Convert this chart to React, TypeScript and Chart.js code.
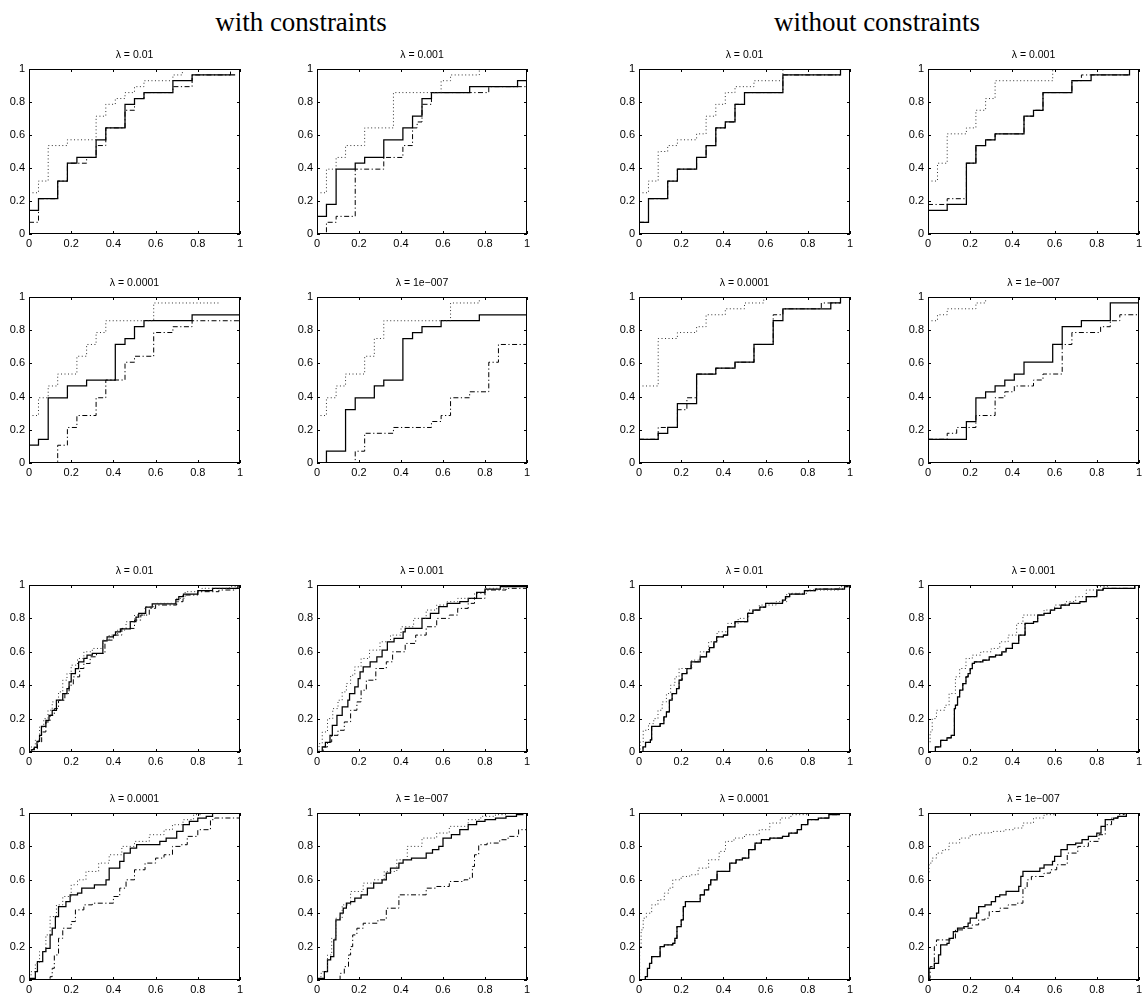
import React, { useEffect, useRef } from 'react';
import { Chart, registerables } from 'chart.js';

Chart.register(...registerables);

type Pt = [number, number];

// ---------- data (x, cumulative fraction) ----------
const p1Solid: Pt[] = [[0,0.143],[0.045,0.214],[0.136,0.321],[0.182,0.429],[0.227,0.464],[0.318,0.571],[0.364,0.643],[0.455,0.786],[0.5,0.821],[0.545,0.857],[0.682,0.929],[0.773,0.964],[0.977,0.964]];
const p1Dotted: Pt[] = [[0,0.25],[0.045,0.321],[0.091,0.536],[0.182,0.571],[0.318,0.714],[0.364,0.786],[0.409,0.821],[0.455,0.857],[0.5,0.893],[0.545,0.929],[0.682,0.964],[0.727,1],[0.955,1]];
const p1DashDot: Pt[] = [[0,0.071],[0.045,0.214],[0.136,0.321],[0.182,0.429],[0.273,0.464],[0.318,0.536],[0.364,0.643],[0.455,0.75],[0.5,0.821],[0.545,0.857],[0.682,0.893],[0.773,0.964],[0.955,1]];

const p2Solid: Pt[] = [[0,0.107],[0.045,0.179],[0.091,0.393],[0.182,0.429],[0.227,0.464],[0.318,0.571],[0.409,0.643],[0.455,0.714],[0.5,0.821],[0.545,0.857],[0.727,0.893],[0.955,0.929],[1,0.929]];
const p2Dotted: Pt[] = [[0,0.25],[0.045,0.393],[0.091,0.464],[0.136,0.536],[0.227,0.643],[0.364,0.857],[0.591,0.929],[0.636,0.964],[0.773,1],[1,1]];
const p2DashDot: Pt[] = [[0,0],[0.045,0.071],[0.091,0.107],[0.182,0.393],[0.318,0.464],[0.409,0.536],[0.455,0.643],[0.477,0.679],[0.5,0.786],[0.545,0.857],[0.818,0.893],[1,0.893]];

const p3Solid: Pt[] = [[0,0.071],[0.045,0.214],[0.136,0.321],[0.182,0.393],[0.273,0.464],[0.318,0.536],[0.364,0.643],[0.409,0.679],[0.455,0.786],[0.5,0.857],[0.682,0.964],[0.955,1],[1,1]];
const p3Dotted: Pt[] = [[0,0.25],[0.045,0.321],[0.091,0.5],[0.136,0.536],[0.182,0.571],[0.273,0.607],[0.318,0.714],[0.364,0.786],[0.409,0.857],[0.455,0.893],[0.545,0.929],[0.682,1],[1,1]];
const p3DashDot: Pt[] = [[0,0.071],[0.045,0.214],[0.136,0.321],[0.182,0.393],[0.273,0.464],[0.318,0.536],[0.364,0.643],[0.409,0.679],[0.455,0.786],[0.5,0.857],[0.682,0.964],[0.955,1],[1,1]];

const p4Solid: Pt[] = [[0,0.143],[0.091,0.179],[0.182,0.429],[0.227,0.536],[0.273,0.571],[0.318,0.607],[0.455,0.714],[0.5,0.75],[0.545,0.857],[0.682,0.929],[0.773,0.964],[0.955,1],[1,1]];
const p4Dotted: Pt[] = [[0,0.321],[0.045,0.429],[0.091,0.607],[0.182,0.643],[0.227,0.75],[0.273,0.821],[0.318,0.929],[0.591,1],[1,1]];
const p4DashDot: Pt[] = [[0,0.179],[0.091,0.214],[0.182,0.429],[0.227,0.536],[0.273,0.571],[0.318,0.607],[0.455,0.714],[0.5,0.75],[0.545,0.857],[0.682,0.929],[0.727,0.964],[0.955,1],[1,1]];

const p5Solid: Pt[] = [[0,0.107],[0.045,0.143],[0.091,0.393],[0.182,0.464],[0.273,0.5],[0.409,0.714],[0.455,0.75],[0.5,0.821],[0.545,0.857],[0.773,0.893],[1,0.893]];
const p5Dotted: Pt[] = [[0,0.286],[0.045,0.393],[0.091,0.464],[0.136,0.536],[0.227,0.643],[0.273,0.714],[0.318,0.786],[0.364,0.857],[0.591,0.964],[0.909,0.964]];
const p5DashDot: Pt[] = [[0,0],[0.136,0.107],[0.182,0.214],[0.227,0.286],[0.318,0.393],[0.364,0.5],[0.455,0.607],[0.5,0.643],[0.591,0.786],[0.682,0.821],[0.773,0.857],[1,0.857]];

const p6Solid: Pt[] = [[0,0],[0.045,0.071],[0.136,0.321],[0.182,0.393],[0.273,0.464],[0.318,0.5],[0.409,0.75],[0.455,0.786],[0.5,0.821],[0.591,0.857],[0.773,0.893],[1,0.893]];
const p6Dotted: Pt[] = [[0,0.286],[0.045,0.393],[0.091,0.464],[0.136,0.536],[0.227,0.643],[0.273,0.75],[0.318,0.857],[0.636,0.964],[0.773,1],[1,1]];
const p6DashDot: Pt[] = [[0,0],[0.182,0.071],[0.227,0.179],[0.364,0.214],[0.545,0.25],[0.591,0.286],[0.636,0.393],[0.727,0.429],[0.818,0.607],[0.864,0.714],[1,0.714]];

const p7Solid: Pt[] = [[0,0.143],[0.091,0.179],[0.136,0.214],[0.182,0.357],[0.273,0.536],[0.364,0.571],[0.455,0.607],[0.545,0.714],[0.636,0.857],[0.682,0.929],[0.909,0.964],[0.955,1],[1,1]];
const p7Dotted: Pt[] = [[0,0.464],[0.091,0.75],[0.182,0.786],[0.273,0.821],[0.318,0.893],[0.409,0.929],[0.5,0.964],[0.591,1],[1,1]];
const p7DashDot: Pt[] = [[0,0.143],[0.091,0.214],[0.182,0.321],[0.227,0.393],[0.273,0.536],[0.364,0.571],[0.455,0.607],[0.545,0.714],[0.636,0.893],[0.682,0.929],[0.864,0.964],[0.955,1],[1,1]];

const p8Solid: Pt[] = [[0,0.143],[0.182,0.25],[0.227,0.393],[0.273,0.429],[0.318,0.464],[0.364,0.5],[0.409,0.536],[0.455,0.607],[0.591,0.714],[0.636,0.821],[0.727,0.857],[0.864,0.964],[1,0.964]];
const p8Dotted: Pt[] = [[0,0.857],[0.045,0.893],[0.091,0.929],[0.227,0.964],[0.273,1],[1,1]];
const p8DashDot: Pt[] = [[0,0.143],[0.091,0.179],[0.136,0.214],[0.227,0.286],[0.318,0.393],[0.364,0.429],[0.409,0.464],[0.5,0.5],[0.545,0.536],[0.636,0.714],[0.682,0.786],[0.818,0.821],[0.864,0.857],[0.909,0.893],[1,0.893]];

const p9Solid: Pt[] = [[0,0],[0.013,0.014],[0.025,0.028],[0.038,0.063],[0.05,0.1],[0.059,0.153],[0.08,0.19],[0.095,0.22],[0.11,0.25],[0.13,0.31],[0.16,0.35],[0.18,0.38],[0.19,0.42],[0.2,0.47],[0.22,0.5],[0.235,0.54],[0.26,0.56],[0.275,0.58],[0.3,0.59],[0.35,0.665],[0.37,0.69],[0.4,0.7],[0.41,0.72],[0.433,0.738],[0.48,0.78],[0.507,0.807],[0.52,0.83],[0.553,0.867],[0.584,0.887],[0.696,0.913],[0.71,0.93],[0.732,0.946],[0.8,0.966],[0.87,0.98],[0.99,1],[1,1]];
const p9Dotted: Pt[] = [[0,0],[0.01,0.03],[0.03,0.07],[0.05,0.15],[0.07,0.2],[0.09,0.25],[0.11,0.3],[0.14,0.36],[0.16,0.43],[0.18,0.47],[0.2,0.52],[0.23,0.56],[0.26,0.6],[0.3,0.62],[0.35,0.67],[0.38,0.7],[0.42,0.73],[0.46,0.78],[0.5,0.82],[0.55,0.87],[0.6,0.89],[0.7,0.92],[0.74,0.96],[0.82,0.98],[0.95,0.99],[1,1]];
const p9DashDot: Pt[] = [[0,0],[0.02,0.02],[0.04,0.06],[0.06,0.12],[0.08,0.18],[0.1,0.22],[0.12,0.26],[0.14,0.31],[0.17,0.35],[0.19,0.4],[0.21,0.45],[0.24,0.5],[0.26,0.53],[0.29,0.57],[0.32,0.59],[0.36,0.67],[0.4,0.7],[0.44,0.74],[0.5,0.79],[0.53,0.82],[0.57,0.86],[0.6,0.88],[0.7,0.9],[0.73,0.94],[0.8,0.96],[0.9,0.97],[0.98,0.98],[1,0.99]];

const p10Solid: Pt[] = [[0,0],[0.025,0.03],[0.04,0.058],[0.062,0.1],[0.073,0.16],[0.095,0.22],[0.12,0.27],[0.147,0.31],[0.155,0.35],[0.18,0.39],[0.196,0.44],[0.205,0.48],[0.22,0.51],[0.253,0.54],[0.285,0.57],[0.31,0.61],[0.335,0.66],[0.367,0.68],[0.41,0.72],[0.42,0.74],[0.5,0.8],[0.54,0.83],[0.58,0.87],[0.62,0.89],[0.68,0.9],[0.72,0.92],[0.76,0.956],[0.8,0.976],[0.873,0.99],[1,0.99]];
const p10Dotted: Pt[] = [[0,0],[0.01,0.05],[0.025,0.12],[0.05,0.2],[0.075,0.26],[0.1,0.31],[0.12,0.36],[0.14,0.41],[0.16,0.46],[0.18,0.51],[0.21,0.56],[0.25,0.61],[0.3,0.66],[0.35,0.7],[0.4,0.75],[0.46,0.8],[0.52,0.85],[0.57,0.88],[0.62,0.9],[0.67,0.92],[0.75,0.95],[0.8,0.98],[0.9,1],[1,1]];
const p10DashDot: Pt[] = [[0,0],[0.03,0.03],[0.05,0.06],[0.07,0.1],[0.1,0.13],[0.13,0.18],[0.16,0.25],[0.19,0.3],[0.21,0.37],[0.235,0.43],[0.28,0.5],[0.33,0.54],[0.36,0.6],[0.42,0.65],[0.47,0.7],[0.52,0.75],[0.57,0.8],[0.63,0.82],[0.67,0.86],[0.72,0.89],[0.75,0.92],[0.8,0.97],[0.9,0.98],[1,0.98]];

const p11Solid: Pt[] = [[0,0],[0.019,0.03],[0.031,0.058],[0.054,0.073],[0.06,0.153],[0.1,0.17],[0.118,0.21],[0.13,0.24],[0.144,0.31],[0.157,0.35],[0.178,0.38],[0.19,0.43],[0.204,0.47],[0.227,0.5],[0.247,0.54],[0.29,0.57],[0.32,0.6],[0.334,0.625],[0.355,0.66],[0.368,0.69],[0.4,0.7],[0.42,0.75],[0.455,0.78],[0.515,0.83],[0.54,0.85],[0.573,0.867],[0.6,0.89],[0.68,0.91],[0.694,0.93],[0.714,0.946],[0.784,0.966],[0.836,0.976],[0.974,0.99],[0.99,1],[1,1]];
const p11Dotted: Pt[] = [[0,0],[0.005,0.06],[0.02,0.13],[0.045,0.17],[0.07,0.2],[0.09,0.25],[0.11,0.3],[0.13,0.35],[0.15,0.4],[0.17,0.45],[0.19,0.5],[0.25,0.55],[0.29,0.6],[0.33,0.66],[0.37,0.72],[0.42,0.77],[0.47,0.8],[0.52,0.85],[0.57,0.88],[0.65,0.9],[0.7,0.95],[0.8,0.97],[0.95,0.99],[1,1]];
const p11DashDot: Pt[] = [[0,0],[0.019,0.03],[0.031,0.058],[0.054,0.073],[0.06,0.153],[0.1,0.17],[0.118,0.21],[0.13,0.24],[0.144,0.31],[0.157,0.35],[0.178,0.38],[0.19,0.43],[0.204,0.47],[0.227,0.5],[0.247,0.54],[0.29,0.57],[0.32,0.6],[0.334,0.625],[0.355,0.66],[0.368,0.69],[0.4,0.7],[0.42,0.75],[0.455,0.78],[0.515,0.83],[0.54,0.85],[0.573,0.867],[0.6,0.89],[0.68,0.91],[0.694,0.93],[0.714,0.946],[0.784,0.966],[0.836,0.976],[0.974,0.99],[0.99,1],[1,1]];

const p12Solid: Pt[] = [[0,0],[0.035,0.03],[0.06,0.07],[0.09,0.085],[0.11,0.1],[0.125,0.26],[0.13,0.28],[0.14,0.33],[0.15,0.37],[0.165,0.41],[0.18,0.45],[0.19,0.47],[0.2,0.5],[0.21,0.53],[0.22,0.54],[0.26,0.55],[0.29,0.57],[0.32,0.58],[0.35,0.6],[0.37,0.62],[0.4,0.65],[0.43,0.7],[0.46,0.77],[0.5,0.78],[0.52,0.82],[0.55,0.83],[0.58,0.85],[0.6,0.86],[0.63,0.88],[0.67,0.89],[0.72,0.9],[0.75,0.93],[0.8,0.97],[0.83,0.98],[0.98,1],[1,1]];
const p12Dotted: Pt[] = [[0,0.05],[0.01,0.12],[0.02,0.2],[0.04,0.25],[0.08,0.28],[0.1,0.35],[0.13,0.45],[0.15,0.5],[0.18,0.56],[0.21,0.58],[0.25,0.6],[0.3,0.62],[0.34,0.66],[0.38,0.7],[0.42,0.77],[0.45,0.82],[0.52,0.82],[0.55,0.85],[0.6,0.88],[0.65,0.9],[0.7,0.93],[0.75,0.97],[0.8,0.99],[0.85,1],[1,1]];
const p12DashDot: Pt[] = [[0,0],[0.035,0.03],[0.06,0.07],[0.09,0.085],[0.11,0.1],[0.125,0.26],[0.13,0.28],[0.14,0.33],[0.15,0.37],[0.165,0.41],[0.18,0.45],[0.19,0.47],[0.2,0.5],[0.21,0.53],[0.22,0.54],[0.26,0.55],[0.29,0.57],[0.32,0.58],[0.35,0.6],[0.37,0.62],[0.4,0.65],[0.43,0.7],[0.46,0.77],[0.5,0.78],[0.52,0.82],[0.55,0.83],[0.58,0.85],[0.6,0.86],[0.63,0.88],[0.67,0.89],[0.72,0.9],[0.75,0.93],[0.8,0.97],[0.83,0.98],[0.98,1],[1,1]];

const p13Solid: Pt[] = [[0,0.01],[0.03,0.05],[0.04,0.11],[0.065,0.17],[0.08,0.19],[0.1,0.27],[0.11,0.31],[0.125,0.38],[0.14,0.44],[0.175,0.47],[0.195,0.51],[0.23,0.52],[0.25,0.55],[0.31,0.57],[0.365,0.6],[0.38,0.67],[0.43,0.71],[0.45,0.76],[0.48,0.79],[0.51,0.81],[0.62,0.83],[0.65,0.85],[0.7,0.89],[0.73,0.93],[0.76,0.95],[0.8,0.97],[0.84,0.98],[0.87,1],[1,1]];
const p13Dotted: Pt[] = [[0,0.02],[0.01,0.05],[0.03,0.1],[0.05,0.17],[0.08,0.27],[0.1,0.38],[0.13,0.45],[0.16,0.5],[0.2,0.57],[0.23,0.6],[0.27,0.65],[0.33,0.7],[0.38,0.75],[0.44,0.8],[0.5,0.83],[0.57,0.87],[0.64,0.9],[0.68,0.93],[0.73,0.96],[0.78,0.99],[0.82,1],[1,1]];
const p13DashDot: Pt[] = [[0,0],[0.1,0.02],[0.11,0.07],[0.12,0.15],[0.14,0.25],[0.16,0.31],[0.2,0.35],[0.22,0.42],[0.26,0.45],[0.3,0.46],[0.4,0.5],[0.43,0.55],[0.46,0.6],[0.5,0.66],[0.55,0.7],[0.6,0.73],[0.64,0.75],[0.68,0.8],[0.72,0.81],[0.75,0.86],[0.8,0.9],[0.86,0.96],[0.88,0.97],[1,0.97]];

const p14Solid: Pt[] = [[0,0.01],[0.035,0.05],[0.05,0.12],[0.065,0.14],[0.08,0.24],[0.09,0.36],[0.11,0.4],[0.125,0.43],[0.14,0.46],[0.16,0.47],[0.18,0.49],[0.21,0.51],[0.24,0.55],[0.27,0.58],[0.31,0.6],[0.33,0.64],[0.35,0.67],[0.39,0.7],[0.41,0.72],[0.45,0.73],[0.52,0.76],[0.55,0.78],[0.58,0.8],[0.6,0.85],[0.64,0.87],[0.68,0.9],[0.72,0.93],[0.76,0.95],[0.8,0.96],[0.85,0.97],[0.9,0.98],[0.95,0.99],[0.98,1],[1,1]];
const p14Dotted: Pt[] = [[0,0.02],[0.02,0.05],[0.05,0.15],[0.07,0.25],[0.09,0.37],[0.12,0.45],[0.16,0.53],[0.22,0.58],[0.27,0.6],[0.32,0.65],[0.38,0.72],[0.43,0.8],[0.5,0.85],[0.57,0.88],[0.63,0.92],[0.72,0.96],[0.78,0.98],[0.85,0.99],[0.9,1],[1,1]];
const p14DashDot: Pt[] = [[0,0],[0.11,0.04],[0.13,0.08],[0.15,0.15],[0.16,0.2],[0.17,0.27],[0.19,0.31],[0.22,0.34],[0.29,0.36],[0.33,0.43],[0.39,0.51],[0.52,0.55],[0.57,0.56],[0.63,0.59],[0.7,0.6],[0.72,0.61],[0.74,0.68],[0.75,0.75],[0.77,0.81],[0.81,0.82],[0.87,0.84],[0.91,0.86],[0.96,0.9],[1,0.93]];

const p15Solid: Pt[] = [[0,0],[0.03,0.02],[0.04,0.07],[0.05,0.1],[0.06,0.14],[0.1,0.2],[0.12,0.21],[0.16,0.22],[0.17,0.25],[0.18,0.32],[0.2,0.36],[0.21,0.44],[0.22,0.47],[0.29,0.51],[0.31,0.54],[0.33,0.57],[0.34,0.6],[0.37,0.65],[0.43,0.7],[0.46,0.72],[0.49,0.73],[0.52,0.78],[0.55,0.82],[0.58,0.84],[0.62,0.85],[0.68,0.86],[0.71,0.88],[0.75,0.9],[0.77,0.93],[0.8,0.96],[0.85,0.97],[0.9,0.99],[0.95,1],[1,1]];
const p15Dotted: Pt[] = [[0,0],[0.003,0.2],[0.01,0.3],[0.02,0.37],[0.035,0.4],[0.06,0.45],[0.09,0.48],[0.12,0.52],[0.14,0.55],[0.16,0.6],[0.2,0.62],[0.24,0.63],[0.28,0.67],[0.33,0.72],[0.38,0.77],[0.41,0.83],[0.45,0.85],[0.5,0.87],[0.57,0.9],[0.62,0.94],[0.67,0.97],[0.72,0.99],[0.8,1],[1,1]];
const p15DashDot: Pt[] = [[0,0],[0.03,0.02],[0.04,0.07],[0.05,0.1],[0.06,0.14],[0.1,0.2],[0.12,0.21],[0.16,0.22],[0.17,0.25],[0.18,0.32],[0.2,0.36],[0.21,0.44],[0.22,0.47],[0.29,0.51],[0.31,0.54],[0.33,0.57],[0.34,0.6],[0.37,0.65],[0.43,0.7],[0.46,0.72],[0.49,0.73],[0.52,0.78],[0.55,0.82],[0.58,0.84],[0.62,0.85],[0.68,0.86],[0.71,0.88],[0.75,0.9],[0.77,0.93],[0.8,0.96],[0.85,0.97],[0.9,0.99],[0.95,1],[1,1]];

const p16Solid: Pt[] = [[0,0.01],[0.005,0.07],[0.03,0.1],[0.05,0.15],[0.06,0.21],[0.09,0.22],[0.1,0.25],[0.12,0.29],[0.14,0.31],[0.17,0.32],[0.19,0.34],[0.2,0.37],[0.23,0.4],[0.24,0.44],[0.27,0.45],[0.3,0.47],[0.32,0.5],[0.34,0.51],[0.37,0.53],[0.43,0.56],[0.44,0.62],[0.45,0.65],[0.53,0.67],[0.55,0.69],[0.59,0.71],[0.6,0.74],[0.63,0.78],[0.66,0.81],[0.7,0.82],[0.73,0.84],[0.76,0.86],[0.8,0.88],[0.82,0.92],[0.84,0.96],[0.88,0.97],[0.9,0.98],[0.94,1],[1,1]];
const p16Dotted: Pt[] = [[0,0.63],[0.005,0.7],[0.02,0.73],[0.04,0.76],[0.07,0.78],[0.1,0.82],[0.15,0.85],[0.2,0.87],[0.25,0.88],[0.3,0.89],[0.36,0.9],[0.41,0.91],[0.45,0.94],[0.5,0.97],[0.55,0.99],[0.6,1],[1,1]];
const p16DashDot: Pt[] = [[0,0.01],[0.01,0.08],[0.03,0.2],[0.04,0.24],[0.11,0.25],[0.13,0.3],[0.17,0.31],[0.21,0.33],[0.24,0.36],[0.27,0.37],[0.29,0.41],[0.34,0.43],[0.38,0.45],[0.42,0.46],[0.45,0.55],[0.47,0.6],[0.49,0.62],[0.55,0.64],[0.58,0.66],[0.61,0.69],[0.66,0.76],[0.71,0.8],[0.76,0.83],[0.81,0.87],[0.84,0.93],[0.87,0.97],[0.9,0.99],[0.93,1],[1,1]];

const lambdaTitles = ['λ = 0.01', 'λ = 0.001', 'λ = 0.0001', 'λ = 1e\u2212007'];
const tickValues = [0, 0.2, 0.4, 0.6, 0.8, 1];
const tickLabels = ['0', '0.2', '0.4', '0.6', '0.8', '1'];
const groupHeadings = ['with constraints', 'without constraints'];

// ---------- layout ----------
const colLeft = [29, 317, 639, 928];
const colWidth = [211, 210, 211, 211];
const rowTop = [69, 297, 585, 813];
const rowHeight = [165, 166, 167, 167];
const PAD_L = 34, PAD_T = 24, PAD_R = 8, PAD_B = 18;
const TICK_FONT = '"Liberation Sans", Arial, Helvetica, sans-serif';

interface PanelSpec { row: number; col: number; title: string; solid: Pt[]; dotted: Pt[]; dashdot: Pt[] }

const panels: PanelSpec[] = [
  { row: 0, col: 0, title: lambdaTitles[0], solid: p1Solid, dotted: p1Dotted, dashdot: p1DashDot },
  { row: 0, col: 1, title: lambdaTitles[1], solid: p2Solid, dotted: p2Dotted, dashdot: p2DashDot },
  { row: 0, col: 2, title: lambdaTitles[0], solid: p3Solid, dotted: p3Dotted, dashdot: p3DashDot },
  { row: 0, col: 3, title: lambdaTitles[1], solid: p4Solid, dotted: p4Dotted, dashdot: p4DashDot },
  { row: 1, col: 0, title: lambdaTitles[2], solid: p5Solid, dotted: p5Dotted, dashdot: p5DashDot },
  { row: 1, col: 1, title: lambdaTitles[3], solid: p6Solid, dotted: p6Dotted, dashdot: p6DashDot },
  { row: 1, col: 2, title: lambdaTitles[2], solid: p7Solid, dotted: p7Dotted, dashdot: p7DashDot },
  { row: 1, col: 3, title: lambdaTitles[3], solid: p8Solid, dotted: p8Dotted, dashdot: p8DashDot },
  { row: 2, col: 0, title: lambdaTitles[0], solid: p9Solid, dotted: p9Dotted, dashdot: p9DashDot },
  { row: 2, col: 1, title: lambdaTitles[1], solid: p10Solid, dotted: p10Dotted, dashdot: p10DashDot },
  { row: 2, col: 2, title: lambdaTitles[0], solid: p11Solid, dotted: p11Dotted, dashdot: p11DashDot },
  { row: 2, col: 3, title: lambdaTitles[1], solid: p12Solid, dotted: p12Dotted, dashdot: p12DashDot },
  { row: 3, col: 0, title: lambdaTitles[2], solid: p13Solid, dotted: p13Dotted, dashdot: p13DashDot },
  { row: 3, col: 1, title: lambdaTitles[3], solid: p14Solid, dotted: p14Dotted, dashdot: p14DashDot },
  { row: 3, col: 2, title: lambdaTitles[2], solid: p15Solid, dotted: p15Dotted, dashdot: p15DashDot },
  { row: 3, col: 3, title: lambdaTitles[3], solid: p16Solid, dotted: p16Dotted, dashdot: p16DashDot },
];

const framePlugin = {
  id: 'matlabFrame',
  afterDatasetsDraw(chart: any, _args: any, opts: any) {
    const { ctx, chartArea } = chart;
    const { left, right, top, bottom } = chartArea;
    const xs = chart.scales.x;
    const ys = chart.scales.y;
    ctx.save();
    ctx.setLineDash([]);
    ctx.strokeStyle = '#000';
    ctx.lineWidth = 1;
    ctx.strokeRect(left + 0.5, top + 0.5, right - left - 1, bottom - top - 1);
    ctx.beginPath();
    const tl = 3;
    for (const v of tickValues) {
      const px = Math.round(xs.getPixelForValue(v)) + 0.5;
      ctx.moveTo(px, bottom); ctx.lineTo(px, bottom - tl);
      ctx.moveTo(px, top); ctx.lineTo(px, top + tl);
      const py = Math.round(ys.getPixelForValue(v)) + 0.5;
      ctx.moveTo(left, py); ctx.lineTo(left + tl, py);
      ctx.moveTo(right, py); ctx.lineTo(right - tl, py);
    }
    ctx.stroke();
    ctx.fillStyle = '#000';
    ctx.font = `10.5px ${TICK_FONT}`;
    ctx.textAlign = 'center';
    ctx.textBaseline = 'middle';
    ctx.fillText(opts.text, (left + right) / 2, top - 14);
    ctx.restore();
  },
};

const labelFor = (value: number | string) => {
  const i = tickValues.findIndex((t) => Math.abs(t - Number(value)) < 1e-6);
  return i >= 0 ? tickLabels[i] : '';
};

const toXY = (pts: Pt[]) => pts.map(([x, y]) => ({ x, y }));

function Panel({ spec }: { spec: PanelSpec }) {
  const ref = useRef<HTMLCanvasElement>(null);
  const w = colWidth[spec.col] + PAD_L + PAD_R;
  const h = rowHeight[spec.row] + PAD_T + PAD_B;
  useEffect(() => {
    if (!ref.current) return;
    const common = { stepped: true, pointRadius: 0, pointHoverRadius: 0, fill: false, tension: 0, borderCapStyle: 'butt' as const };
    const chart = new Chart(ref.current, {
      type: 'line',
      data: {
        datasets: [
          { ...common, label: 'dotted', data: toXY(spec.dotted), borderColor: '#333', borderWidth: 1, borderDash: [1, 2.5] },
          { ...common, label: 'dashdot', data: toXY(spec.dashdot), borderColor: '#000', borderWidth: 1, borderDash: [5, 2.5, 1.2, 2.5] },
          { ...common, label: 'solid', data: toXY(spec.solid), borderColor: '#000', borderWidth: 1.25 },
        ],
      } as any,
      options: {
        responsive: false,
        animation: false,
        events: [],
        layout: { padding: { top: PAD_T, right: PAD_R, left: 0, bottom: 0 } },
        plugins: {
          legend: { display: false },
          tooltip: { enabled: false },
          title: { display: false },
          matlabFrame: { text: spec.title },
        } as any,
        scales: {
          x: {
            type: 'linear',
            min: 0,
            max: 1,
            afterBuildTicks: (s: any) => { s.ticks = tickValues.map((v) => ({ value: v })); },
            afterFit: (s: any) => { s.height = PAD_B; },
            ticks: { callback: (v: any) => labelFor(v), font: { size: 11, family: TICK_FONT }, color: '#000', padding: 3, maxRotation: 0, autoSkip: false },
            grid: { display: false, drawTicks: false },
            border: { display: false },
          },
          y: {
            type: 'linear',
            min: 0,
            max: 1,
            afterBuildTicks: (s: any) => { s.ticks = tickValues.map((v) => ({ value: v })); },
            afterFit: (s: any) => { s.width = PAD_L; },
            ticks: { callback: (v: any) => labelFor(v), font: { size: 11, family: TICK_FONT }, color: '#000', padding: 4, autoSkip: false },
            grid: { display: false, drawTicks: false },
            border: { display: false },
          },
        } as any,
      },
      plugins: [framePlugin as any],
    });
    return () => chart.destroy();
  }, [spec]);
  return (
    <canvas
      ref={ref}
      width={w}
      height={h}
      style={{ position: 'absolute', left: colLeft[spec.col] - PAD_L, top: rowTop[spec.row] - PAD_T, width: w, height: h }}
    />
  );
}

const headingStyle = {
  position: 'absolute' as const,
  top: 7,
  transform: 'translateX(-50%)',
  whiteSpace: 'nowrap' as const,
  fontFamily: '"Liberation Serif", "Times New Roman", serif',
  fontSize: 27,
  lineHeight: '30px',
  color: '#000',
};

export default function App() {
  return (
    <div style={{ position: 'absolute', left: 0, top: 0, width: 1144, height: 996, background: '#fff', overflow: 'hidden' }}>
      <div style={{ ...headingStyle, left: 301 }}>{groupHeadings[0]}</div>
      <div style={{ ...headingStyle, left: 877 }}>{groupHeadings[1]}</div>
      {panels.map((p, i) => <Panel key={i} spec={p} />)}
    </div>
  );
}
